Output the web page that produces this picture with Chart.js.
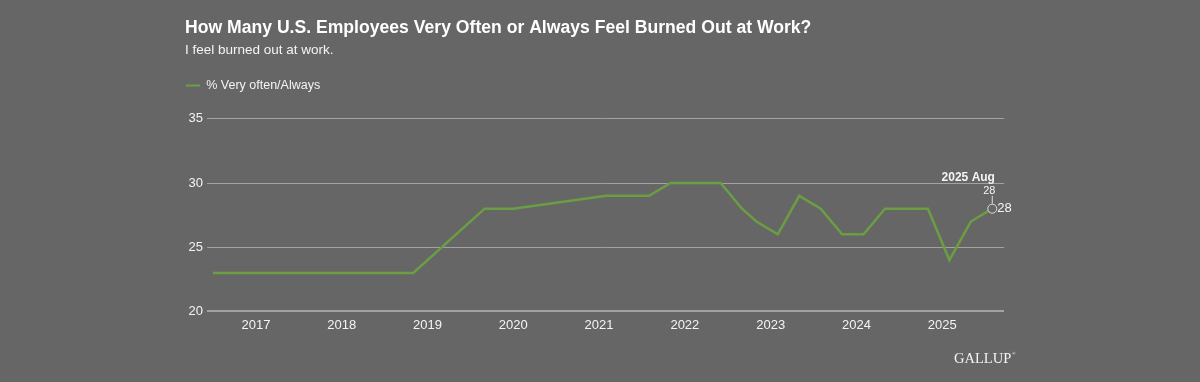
<!DOCTYPE html>
<html lang="en">
<head>
<meta charset="UTF-8">
<script src="https://cdn.jsdelivr.net/npm/chart.js@4.4.1/dist/chart.umd.min.js"></script>
<title>Burned out at work</title>
<style>
  body { margin: 0; background: #666666; }
</style>
</head>
<body>
<canvas id="burnout" width="1200" height="382"></canvas>
<script>
// survey periods (year-month) and % very often / always burned out
var periods = ['2016-07', '2018-11', '2019-09', '2020-01', '2021-02', '2021-08', '2021-11',
               '2022-06', '2022-09', '2022-11', '2023-02', '2023-05', '2023-08', '2023-11',
               '2024-02', '2024-05', '2024-11', '2025-02', '2025-05', '2025-08'];
var values = [23, 23, 28, 28, 29, 29, 30, 30, 28, 27, 26, 29, 28, 26, 26, 28, 28, 24, 27, 28];
var yearTicks = [2017, 2018, 2019, 2020, 2021, 2022, 2023, 2024, 2025];
var yTicks = [20, 25, 30, 35];
var monthNames = ['Jan', 'Feb', 'Mar', 'Apr', 'May', 'Jun', 'Jul', 'Aug', 'Sep', 'Oct', 'Nov', 'Dec'];

var green = '#6b9e43';
var textColor = '#f4f4f4';

function toYear(p) {
    var parts = p.split('-');
    return +parts[0] + (parts[1] - 1) / 12;
}

var points = periods.map(function (p, i) {
    return { x: toYear(p), y: values[i] };
});

Chart.defaults.font.family = '"Liberation Sans", Arial, sans-serif';

// push the plot down below the legend
var legendGap = {
    id: 'legendGap',
    beforeInit: function (chart) {
        var fit = chart.legend.fit;
        chart.legend.fit = function () {
            fit.bind(chart.legend)();
            this.height += 17;
        };
    }
};

// label on the latest point
var lastLabel = {
    id: 'lastLabel',
    afterDatasetsDraw: function (chart) {
        var meta = chart.getDatasetMeta(0);
        var i = meta.data.length - 1;
        var pt = meta.data[i];
        var parts = periods[i].split('-');
        var ctx = chart.ctx;
        ctx.save();
        ctx.strokeStyle = '#dddddd';
        ctx.lineWidth = 1;
        ctx.fillStyle = '#666666';
        ctx.beginPath();
        ctx.arc(pt.x, pt.y, 4.5, 0, Math.PI * 2);
        ctx.fill();
        ctx.stroke();
        ctx.beginPath();
        ctx.moveTo(pt.x, pt.y - 13);
        ctx.lineTo(pt.x, pt.y - 5);
        ctx.stroke();
        ctx.fillStyle = textColor;
        ctx.textBaseline = 'middle';
        ctx.textAlign = 'left';
        ctx.font = '13px "Liberation Sans", Arial, sans-serif';
        ctx.fillText(values[i], pt.x + 5, pt.y);
        ctx.textAlign = 'center';
        ctx.textBaseline = 'alphabetic';
        ctx.font = '11px "Liberation Sans", Arial, sans-serif';
        ctx.fillText(values[i], pt.x - 3, pt.y - 14.5);
        ctx.font = 'bold 12px "Liberation Sans", Arial, sans-serif';
        ctx.fillText(parts[0] + ' ' + monthNames[parts[1] - 1], pt.x - 24, pt.y - 28);
        ctx.restore();
    }
};

var logo = {
    id: 'logo',
    afterDraw: function (chart) {
        var ctx = chart.ctx;
        ctx.save();
        ctx.fillStyle = textColor;
        ctx.textBaseline = 'alphabetic';
        ctx.textAlign = 'left';
        ctx.font = '14.5px "Liberation Serif", "DejaVu Serif", serif';
        ctx.fillText('GALLUP', 954, 363);
        var w = ctx.measureText('GALLUP').width;
        ctx.font = '5px "Liberation Serif", serif';
        ctx.fillText('\u00AE', 954 + w + 0.5, 355);
        ctx.restore();
    }
};

new Chart(document.getElementById('burnout'), {
    type: 'line',
    data: {
        datasets: [{
            label: '% Very often/Always',
            data: points,
            borderColor: green,
            backgroundColor: green,
            borderWidth: 2.5,
            pointRadius: 0,
            tension: 0
        }]
    },
    options: {
        responsive: false,
        animation: false,
        layout: { padding: { left: 185, right: 196, top: 0, bottom: 43 } },
        plugins: {
            title: {
                display: true,
                text: 'How Many U.S. Employees Very Often or Always Feel Burned Out at Work?',
                align: 'start',
                color: '#ffffff',
                font: { size: 17.6, weight: 'bold' },
                padding: { top: 18, bottom: 0 }
            },
            subtitle: {
                display: true,
                text: 'I feel burned out at work.',
                align: 'start',
                color: textColor,
                font: { size: 13.5 },
                padding: { top: 3, bottom: 20 }
            },
            legend: {
                align: 'start',
                labels: {
                    boxWidth: 14,
                    boxHeight: 2,
                    padding: 1,
                    color: textColor,
                    font: { size: 12.5 },
                    generateLabels: function (chart) {
                        return Chart.defaults.plugins.legend.labels.generateLabels(chart).map(function (item) {
                            item.lineWidth = 0;
                            return item;
                        });
                    }
                }
            },
            tooltip: { enabled: false }
        },
        scales: {
            x: {
                type: 'linear',
                min: 2016.43,
                max: 2025.72,
                grid: { display: false, drawTicks: false },
                border: { display: false },
                afterBuildTicks: function (scale) {
                    scale.ticks = yearTicks.map(function (v) { return { value: v }; });
                },
                ticks: {
                    color: textColor,
                    font: { size: 13 },
                    padding: 6,
                    callback: function (v) { return String(v); }
                }
            },
            y: {
                min: 20,
                max: 35,
                afterBuildTicks: function (scale) {
                    scale.ticks = yTicks.map(function (v) { return { value: v }; });
                },
                afterFit: function (scale) {
                    scale.width = 22;
                },
                grid: {
                    color: '#a2a2a2',
                    lineWidth: function (c) { return c.tick && c.tick.value === 20 ? 2 : 1; },
                    drawTicks: false
                },
                border: { display: false },
                ticks: {
                    color: textColor,
                    font: { size: 13 },
                    padding: 4
                }
            }
        }
    },
    plugins: [legendGap, lastLabel, logo]
});
</script>
</body>
</html>
